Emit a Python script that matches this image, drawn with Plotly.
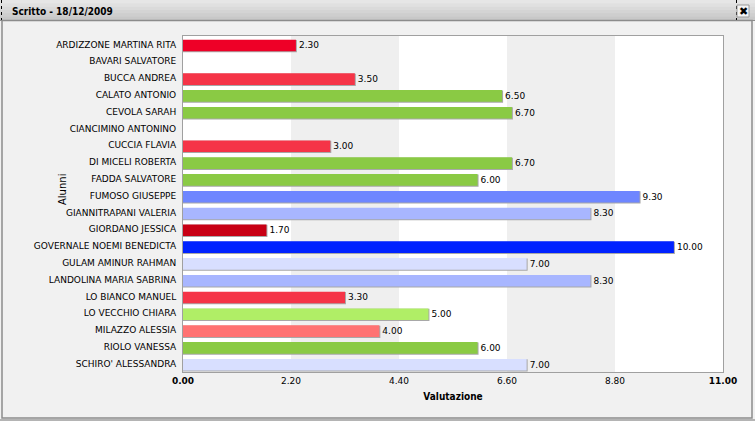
import plotly.graph_objects as go

students = ["ARDIZZONE MARTINA RITA", "BAVARI SALVATORE", "BUCCA ANDREA", "CALATO ANTONIO",
            "CEVOLA SARAH", "CIANCIMINO ANTONINO", "CUCCIA FLAVIA", "DI MICELI ROBERTA",
            "FADDA SALVATORE", "FUMOSO GIUSEPPE", "GIANNITRAPANI VALERIA", "GIORDANO JESSICA",
            "GOVERNALE NOEMI BENEDICTA", "GULAM AMINUR RAHMAN", "LANDOLINA MARIA SABRINA",
            "LO BIANCO MANUEL", "LO VECCHIO CHIARA", "MILAZZO ALESSIA", "RIOLO VANESSA",
            "SCHIRO' ALESSANDRA"]
grades = [2.30, None, 3.50, 6.50, 6.70, None, 3.00, 6.70, 6.00, 9.30, 8.30, 1.70, 10.00,
          7.00, 8.30, 3.30, 5.00, 4.00, 6.00, 7.00]
bar_colors = ["#ee0027", "#ffffff", "#f53447", "#8aca44", "#8aca44", "#ffffff", "#f53447",
              "#8aca44", "#8aca44", "#6e86ff", "#a8b6ff", "#c80014", "#0022ff", "#d8dfff",
              "#a8b6ff", "#f53447", "#b0ee66", "#ff7272", "#8aca44", "#d8dfff"]
tick_vals = [0.0, 2.2, 4.4, 6.6, 8.8, 11.0]
tick_text = ["<b>0.00</b>", "2.20", "4.40", "6.60", "8.80", "<b>11.00</b>"]
window_title = "Scritto - 18/12/2009"

W, H = 755, 421
L, R, T, B = 183, 723, 36, 372
pw, ph = R - L, B - T


def px(x):
    return (x - L) / pw


def py(y):
    return (B - y) / ph


labels = ["" if g is None else f"{g:.2f}" for g in grades]

fig = go.Figure()
# shadow bars
fig.add_trace(go.Bar(
    y=students, x=grades, orientation="h", width=0.61, offset=-0.2,
    marker=dict(color="#a8a8a8", line=dict(color="#a8a8a8", width=2)),
    hoverinfo="skip", showlegend=False,
))
fig.add_trace(go.Bar(
    y=students, x=grades, orientation="h", width=0.69, offset=-0.28,
    marker=dict(color=bar_colors, line=dict(width=0)),
    text=labels, textposition="outside", cliponaxis=False,
    textfont=dict(family="DejaVu Sans", size=9, color="#000000"),
    showlegend=False,
))

shapes = []
# background bands
for i in range(1, len(tick_vals) - 1, 2):
    shapes.append(dict(type="rect", xref="x", yref="paper", x0=tick_vals[i], x1=tick_vals[i + 1],
                       y0=0, y1=1, fillcolor="#efefef", line=dict(width=0), layer="below"))
# title bar gradient
steps = ["#e6e6e6", "#e0e0e0", "#dadada", "#d4d4d4", "#cecece", "#c8c8c8"]
for i, c in enumerate(steps):
    y0 = 1 + i * 20 / len(steps)
    y1 = 1 + (i + 1) * 20 / len(steps)
    shapes.append(dict(type="rect", xref="paper", yref="paper", x0=px(0), x1=px(W),
                       y0=py(y0 - 1), y1=py(y1), fillcolor=c, line=dict(width=0), layer="below"))
shapes.append(dict(type="line", xref="paper", yref="paper", x0=px(0), x1=px(W), y0=py(20.5), y1=py(20.5),
                   line=dict(color="#8c8c8c", width=1)))
# window border
shapes.append(dict(type="rect", xref="paper", yref="paper", x0=px(2), x1=px(752), y0=py(418), y1=py(20.5),
                   line=dict(color="#8c8c8c", width=1.5)))
shapes.append(dict(type="line", xref="paper", yref="paper", x0=px(0), x1=px(W), y0=py(420), y1=py(420),
                   line=dict(color="#b4b4b4", width=2)))
# dotted focus lines
shapes.append(dict(type="line", xref="paper", yref="paper", x0=px(1.5), x1=px(1.5), y0=py(0), y1=py(20),
                   line=dict(color="#000000", width=1, dash="dot")))
shapes.append(dict(type="line", xref="paper", yref="paper", x0=px(736.5), x1=px(736.5), y0=py(0), y1=py(20),
                   line=dict(color="#000000", width=1, dash="dot")))
# close button
shapes.append(dict(type="rect", xref="paper", yref="paper", x0=px(737), x1=px(749), y0=py(17), y1=py(5),
                   fillcolor="#f4f4f4", line=dict(color="#9a9a9a", width=1)))

annotations = [
    dict(text=f"<b>{window_title}</b>", xref="paper", yref="paper", x=px(10), y=py(11),
         xanchor="left", yanchor="middle", showarrow=False,
         font=dict(family="DejaVu Sans Condensed", size=10, color="#000000")),
    dict(text="✖", xref="paper", yref="paper", x=px(743), y=py(11),
         xanchor="center", yanchor="middle", showarrow=False,
         font=dict(family="DejaVu Sans", size=11, color="#000000")),
    dict(text="Alunni", xref="paper", yref="paper", x=px(62), y=py(190), textangle=-90,
         xanchor="center", yanchor="middle", showarrow=False,
         font=dict(family="DejaVu Sans", size=10, color="#000000")),
]

fig.update_layout(
    width=W, height=H,
    margin=dict(l=L, r=W - R, t=T, b=H - B, pad=0),
    paper_bgcolor="#f1f1f1", plot_bgcolor="#ffffff",
    barmode="overlay", bargap=0.2,
    shapes=shapes, annotations=annotations,
    font=dict(family="DejaVu Sans", color="#000000"),
    xaxis=dict(range=[0, 11], tickvals=tick_vals, ticktext=tick_text, showgrid=False, zeroline=False,
               showline=True, mirror=True, linecolor="#a0a0a0", linewidth=1,
               ticks="", tickfont=dict(family="DejaVu Sans", size=9),
               title=dict(text="<b>Valutazione</b>", font=dict(family="DejaVu Sans Condensed", size=10),
                          standoff=8)),
    yaxis=dict(autorange="reversed", showgrid=False, zeroline=False,
               showline=True, mirror=True, linecolor="#a0a0a0", linewidth=1,
               ticks="outside", ticklen=4, tickcolor="rgba(0,0,0,0)",
               tickfont=dict(family="DejaVu Sans", size=9)),
)

fig.write_html("out.html")
